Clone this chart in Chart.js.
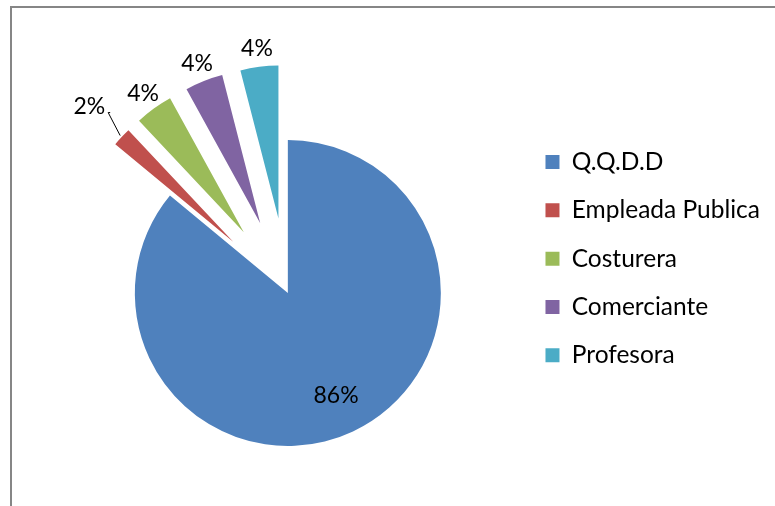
<!DOCTYPE html>
<html lang="es">
<head>
<meta charset="UTF-8"/>
<title>Ocupación</title>
<script src="https://cdn.jsdelivr.net/npm/chart.js"></script>
<style>
  html, body { margin:0; padding:0; background:#fff; overflow:hidden; }
  .wrap { position:relative; width:775px; height:506px; }
  .frame { position:absolute; left:10px; top:6px; width:820px; height:560px; border:2px solid #868686; }
  canvas { position:absolute; left:0; top:0; }
</style>
</head>
<body>
<div class="wrap">
  <div class="frame"></div>
  <canvas id="pieChart" width="775" height="506"></canvas>
</div>
<script>
  // data
  const categories = ['Q.Q.D.D', 'Empleada Publica', 'Costurera', 'Comerciante', 'Profesora'];
  const percents = [86, 2, 4, 4, 4];
  const colors = ['#4F81BD', '#C0504D', '#9BBB59', '#8064A2', '#4BACC6'];

  // look
  const PIE_R = 153;                    // radius in px
  const explode = [0, 75, 75, 75, 75];  // how far each slice is pulled out (px)
  const labelDist = [0.74, 1.29, 1.12, 1.12, 1.12]; // label distance, as part of the radius
  const FONT = 'Lato';
  Chart.defaults.font.family = FONT;

  // pull slices out along their middle angle (chart.js offset also thins the arc)
  const explodeSlices = {
    id: 'explodeSlices',
    afterDatasetUpdate(chart, args) {
      chart.getDatasetMeta(args.index).data.forEach((arc, i) => {
        const mid = (arc.startAngle + arc.endAngle) / 2;
        arc.x += Math.cos(mid) * explode[i];
        arc.y += Math.sin(mid) * explode[i];
      });
    }
  };

  // percent labels (+ leader line for the thin slice)
  const sliceLabels = {
    id: 'sliceLabels',
    afterDatasetsDraw(chart) {
      const ctx = chart.ctx;
      const arcs = chart.getDatasetMeta(0).data;
      const total = percents.reduce((a, b) => a + b, 0);
      ctx.save();
      ctx.font = '23px ' + FONT;
      ctx.fillStyle = '#000';
      ctx.textAlign = 'center';
      ctx.textBaseline = 'middle';
      arcs.forEach((arc, i) => {
        const mid = (arc.startAngle + arc.endAngle) / 2;
        const lx = arc.x + Math.cos(mid) * PIE_R * labelDist[i];
        const ly = arc.y + Math.sin(mid) * PIE_R * labelDist[i];
        const txt = Math.round(percents[i] / total * 100) + '%';
        ctx.fillText(txt, lx, ly);
        if (i === 1) {
          const w = ctx.measureText(txt).width;
          const ox = arc.x + Math.cos(mid) * (PIE_R + 2);
          const oy = arc.y + Math.sin(mid) * (PIE_R + 2);
          ctx.beginPath();
          ctx.strokeStyle = '#000';
          ctx.lineWidth = 1;
          ctx.moveTo(lx + w / 2 + 5, ly + 6);
          ctx.lineTo(ox - 12, ly + 6);
          ctx.lineTo(ox, oy);
          ctx.stroke();
        }
      });
      ctx.restore();
    }
  };

  new Chart(document.getElementById('pieChart'), {
    type: 'pie',
    data: {
      labels: categories,
      datasets: [{
        data: percents,
        backgroundColor: colors,
        borderWidth: 0,
        clip: false
      }]
    },
    options: {
      responsive: false,
      animation: false,
      radius: PIE_R,
      layout: { padding: { left: 54, top: 126, bottom: 46, right: 5 } },
      plugins: {
        legend: {
          position: 'right',
          align: 'start',
          labels: { boxWidth: 14, boxHeight: 14, padding: 23.8, color: '#000', font: { family: FONT, size: 24.5 } }
        },
        tooltip: { enabled: false }
      }
    },
    plugins: [explodeSlices, sliceLabels]
  });
</script>
</body>
</html>
